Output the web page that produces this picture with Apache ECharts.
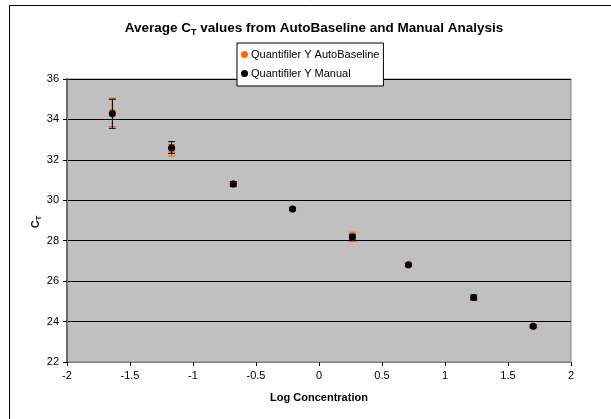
<!DOCTYPE html>
<html>
<head>
<meta charset="utf-8">
<script src="https://cdn.jsdelivr.net/npm/echarts@6/dist/echarts.min.js"></script>
<style>
html,body{margin:0;padding:0;background:#fff;}
#chart{width:611px;height:419px;}
</style>
</head>
<body>
<div id="chart"></div>
<script>
// Data
const logConc = [-1.64, -1.17, -0.68, -0.21, 0.265, 0.71, 1.228, 1.70];
const autoMean = [34.35, 32.47, 30.80, 29.57, 28.19, 26.80, 25.18, 23.77];
const autoLow  = [33.65, 32.18, 30.67, 29.49, 27.96, 26.73, 25.05, 23.69];
const autoHigh = [35.05, 32.76, 30.93, 29.65, 28.42, 26.87, 25.31, 23.85];
const manMean  = [34.28, 32.60, 30.81, 29.57, 28.18, 26.81, 25.19, 23.77];
const manLow   = [33.56, 32.31, 30.69, 29.50, 28.04, 26.74, 25.07, 23.70];
const manHigh  = [35.00, 32.90, 30.93, 29.64, 28.32, 26.88, 25.31, 23.84];
const xTicks = [-2, -1.5, -1, -0.5, 0, 0.5, 1, 1.5, 2];
const yTicks = [22, 24, 26, 28, 30, 32, 34, 36];

const FONT = 'Liberation Sans, Arial, sans-serif';
const ORANGE = '#FF6600';

function errData(means, lows, highs) {
  return logConc.map((x, i) => [x, lows[i], highs[i]]);
}
function errRender(color) {
  return function (params, api) {
    const x = api.value(0);
    const p1 = api.coord([x, api.value(1)]);
    const p2 = api.coord([x, api.value(2)]);
    const hw = 3.5;
    const style = { stroke: color, lineWidth: 1 };
    return {
      type: 'group',
      children: [
        { type: 'line', shape: { x1: p1[0], y1: p1[1], x2: p2[0], y2: p2[1] }, style },
        { type: 'line', shape: { x1: p1[0] - hw, y1: p1[1], x2: p1[0] + hw, y2: p1[1] }, style },
        { type: 'line', shape: { x1: p2[0] - hw, y1: p2[1], x2: p2[0] + hw, y2: p2[1] }, style }
      ]
    };
  };
}

const chart = echarts.init(document.getElementById('chart'), null, { renderer: 'canvas' });
chart.setOption({
  animation: false,
  backgroundColor: '#fff',
  textStyle: { fontFamily: FONT },
  grid: {
    left: 67, right: 40, top: 79, bottom: 57,
    show: true, backgroundColor: '#C0C0C0', borderColor: '#808080', borderWidth: 1,
    containLabel: false
  },
  legend: {
    orient: 'vertical',
    left: 237, top: 43,
    backgroundColor: '#fff', borderColor: '#000', borderWidth: 1, borderRadius: 0,
    padding: [6, 4, 7, 4],
    itemGap: 8, itemWidth: 7, itemHeight: 7, icon: 'circle',
    textStyle: { fontFamily: FONT, fontSize: 11, color: '#000', padding: [0, 0, 0, -2] },
    data: ['Quantifiler Y AutoBaseline', 'Quantifiler Y Manual'],
    z: 10
  },
  xAxis: {
    type: 'value', min: xTicks[0], max: xTicks[xTicks.length - 1], interval: 0.5,
    name: 'Log Concentration', nameLocation: 'middle', nameGap: 30,
    nameTextStyle: { fontFamily: FONT, fontSize: 11, fontWeight: 'bold', color: '#000' },
    axisLine: { onZero: false, lineStyle: { color: '#808080', width: 1 } },
    axisTick: { show: true, inside: false, length: 4, lineStyle: { color: '#000' } },
    axisLabel: { fontFamily: FONT, fontSize: 11, color: '#000', margin: 8 },
    splitLine: { show: false }
  },
  yAxis: {
    type: 'value', min: yTicks[0], max: yTicks[yTicks.length - 1], interval: 2,
    axisLine: { show: true, onZero: false, lineStyle: { color: '#6e6e6e', width: 2 } },
    axisTick: { show: true, inside: false, length: 4, lineStyle: { color: '#000' } },
    axisLabel: { fontFamily: FONT, fontSize: 11, color: '#000', margin: 8 },
    splitLine: { show: true, lineStyle: { color: '#000', width: 1 } }
  },
  graphic: [
    { type: 'rect', shape: { x: 9.5, y: 5.5, width: 700, height: 500 },
      style: { fill: null, stroke: '#000', lineWidth: 1 }, z: 100, silent: true },
    { type: 'text', x: 314, y: 20, z: 100,
      style: {
        text: '{a|Average C}{s|T}{a| values from AutoBaseline and Manual Analysis}',
        textAlign: 'center', textVerticalAlign: 'top',
        rich: {
          a: { fontFamily: FONT, fontSize: 13.5, fontWeight: 'bold', fill: '#000', lineHeight: 17, verticalAlign: 'middle' },
          s: { fontFamily: FONT, fontSize: 9, fontWeight: 'bold', fill: '#000', lineHeight: 9, verticalAlign: 'bottom' }
        }
      } },
    { type: 'text', x: 36, y: 222, rotation: Math.PI / 2, z: 100,
      style: {
        text: '{a|C}{s|T}',
        textAlign: 'center', textVerticalAlign: 'middle',
        rich: {
          a: { fontFamily: FONT, fontSize: 11, fontWeight: 'bold', fill: '#000', lineHeight: 14, verticalAlign: 'middle' },
          s: { fontFamily: FONT, fontSize: 7.5, fontWeight: 'bold', fill: '#000', lineHeight: 6, verticalAlign: 'bottom' }
        }
      } }
  ],
  series: [
    {
      name: 'Quantifiler Y AutoBaseline err', type: 'custom', z: 2,
      renderItem: errRender(ORANGE), data: errData(autoMean, autoLow, autoHigh),
      encode: { x: 0, y: [1, 2] }, silent: true
    },
    {
      name: 'Quantifiler Y AutoBaseline', type: 'scatter', z: 3,
      symbol: 'circle', symbolSize: 7, itemStyle: { color: ORANGE, opacity: 1 },
      data: logConc.map((x, i) => [x, autoMean[i]])
    },
    {
      name: 'Quantifiler Y Manual err', type: 'custom', z: 4,
      renderItem: errRender('#000'), data: errData(manMean, manLow, manHigh),
      encode: { x: 0, y: [1, 2] }, silent: true
    },
    {
      name: 'Quantifiler Y Manual', type: 'scatter', z: 5,
      symbol: 'circle', symbolSize: 7, itemStyle: { color: '#000', opacity: 1 },
      data: logConc.map((x, i) => [x, manMean[i]])
    }
  ]
});
</script>
</body>
</html>
